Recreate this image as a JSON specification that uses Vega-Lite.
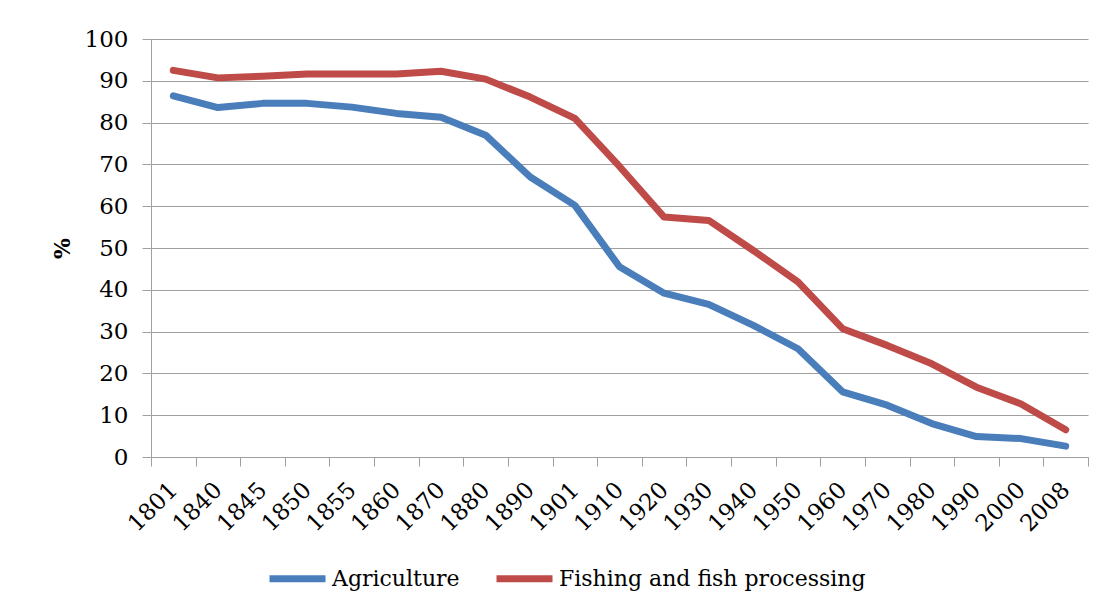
{
  "$schema": "https://vega.github.io/schema/vega-lite/v6.json",
  "width": 937,
  "height": 418,
  "autosize": "none",
  "padding": {"left": 151, "top": 39, "right": 16, "bottom": 152},
  "background": "white",
  "data": {
    "values": [
      {"year": "1801", "series": "Agriculture", "pct": 86.4},
      {"year": "1840", "series": "Agriculture", "pct": 83.6},
      {"year": "1845", "series": "Agriculture", "pct": 84.6},
      {"year": "1850", "series": "Agriculture", "pct": 84.6},
      {"year": "1855", "series": "Agriculture", "pct": 83.7},
      {"year": "1860", "series": "Agriculture", "pct": 82.2},
      {"year": "1870", "series": "Agriculture", "pct": 81.3},
      {"year": "1880", "series": "Agriculture", "pct": 77.0},
      {"year": "1890", "series": "Agriculture", "pct": 67.0},
      {"year": "1901", "series": "Agriculture", "pct": 60.2},
      {"year": "1910", "series": "Agriculture", "pct": 45.5},
      {"year": "1920", "series": "Agriculture", "pct": 39.2},
      {"year": "1930", "series": "Agriculture", "pct": 36.5},
      {"year": "1940", "series": "Agriculture", "pct": 31.5},
      {"year": "1950", "series": "Agriculture", "pct": 25.9},
      {"year": "1960", "series": "Agriculture", "pct": 15.6},
      {"year": "1970", "series": "Agriculture", "pct": 12.4},
      {"year": "1980", "series": "Agriculture", "pct": 8.0},
      {"year": "1990", "series": "Agriculture", "pct": 4.9},
      {"year": "2000", "series": "Agriculture", "pct": 4.4},
      {"year": "2008", "series": "Agriculture", "pct": 2.6},
      {"year": "1801", "series": "Fishing and fish processing", "pct": 92.5},
      {"year": "1840", "series": "Fishing and fish processing", "pct": 90.7},
      {"year": "1845", "series": "Fishing and fish processing", "pct": 91.1},
      {"year": "1850", "series": "Fishing and fish processing", "pct": 91.6},
      {"year": "1855", "series": "Fishing and fish processing", "pct": 91.6},
      {"year": "1860", "series": "Fishing and fish processing", "pct": 91.6},
      {"year": "1870", "series": "Fishing and fish processing", "pct": 92.3},
      {"year": "1880", "series": "Fishing and fish processing", "pct": 90.4},
      {"year": "1890", "series": "Fishing and fish processing", "pct": 86.1},
      {"year": "1901", "series": "Fishing and fish processing", "pct": 81.0},
      {"year": "1910", "series": "Fishing and fish processing", "pct": 69.5},
      {"year": "1920", "series": "Fishing and fish processing", "pct": 57.4},
      {"year": "1930", "series": "Fishing and fish processing", "pct": 56.6},
      {"year": "1940", "series": "Fishing and fish processing", "pct": 49.4},
      {"year": "1950", "series": "Fishing and fish processing", "pct": 41.9},
      {"year": "1960", "series": "Fishing and fish processing", "pct": 30.7},
      {"year": "1970", "series": "Fishing and fish processing", "pct": 26.7},
      {"year": "1980", "series": "Fishing and fish processing", "pct": 22.3},
      {"year": "1990", "series": "Fishing and fish processing", "pct": 16.7},
      {"year": "2000", "series": "Fishing and fish processing", "pct": 12.7},
      {"year": "2008", "series": "Fishing and fish processing", "pct": 6.5}
    ]
  },
  "mark": {"type": "line", "strokeWidth": 7, "strokeCap": "round", "strokeJoin": "round"},
  "encoding": {
    "x": {
      "field": "year",
      "type": "ordinal",
      "sort": null,
      "scale": {"type": "band", "paddingInner": 0, "paddingOuter": 0},
      "axis": {
        "title": null,
        "tickBand": "extent",
        "labelAngle": -45,
        "labelAlign": "right",
        "labelBaseline": "middle",
        "labelPadding": 20,
        "labelFont": "DejaVu Serif",
        "labelFontSize": 23,
        "labelColor": "#000000",
        "tickSize": 9,
        "tickColor": "#a0a0a0",
        "domainColor": "#a0a0a0",
        "grid": false
      }
    },
    "y": {
      "field": "pct",
      "type": "quantitative",
      "scale": {"domain": [0, 100], "nice": false},
      "axis": {
        "title": "%",
        "titleFont": "DejaVu Serif",
        "titleFontSize": 22,
        "titleFontWeight": "bold",
        "titleColor": "#000000",
        "titlePadding": 10,
        "values": [0, 10, 20, 30, 40, 50, 60, 70, 80, 90, 100],
        "labelFont": "DejaVu Serif",
        "labelFontSize": 23,
        "labelColor": "#000000",
        "labelPadding": 14,
        "tickSize": 9,
        "tickColor": "#a0a0a0",
        "domainColor": "#a0a0a0",
        "gridColor": "#a0a0a0",
        "gridWidth": 1.2
      }
    },
    "color": {
      "field": "series",
      "type": "nominal",
      "scale": {
        "domain": ["Agriculture", "Fishing and fish processing"],
        "range": ["#4A7EBB", "#BE4B48"]
      },
      "legend": {
        "title": null,
        "orient": "none",
        "legendX": 115,
        "legendY": 508,
        "direction": "horizontal",
        "symbolType": "stroke",
        "symbolSize": 3136,
        "symbolStrokeWidth": 7,
        "labelFont": "DejaVu Serif",
        "labelFontSize": 22,
        "labelColor": "#000000",
        "labelOffset": 3,
        "labelLimit": 0,
        "columnPadding": 22
      }
    }
  },
  "config": {
    "view": {"stroke": null}
  }
}
